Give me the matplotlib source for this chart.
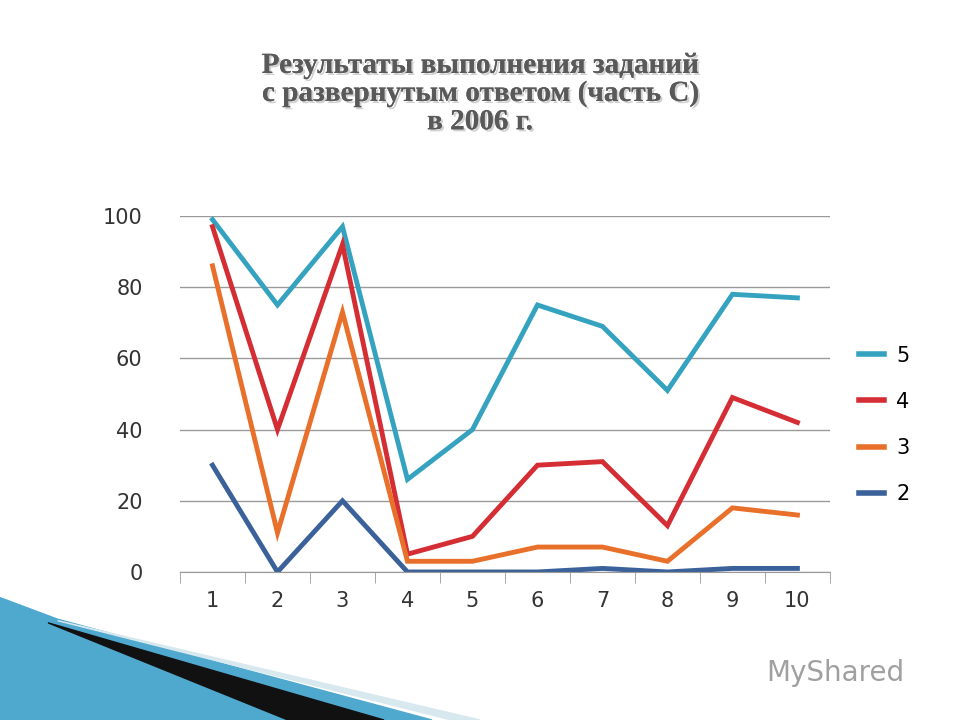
import matplotlib.pyplot as plt
from matplotlib.patches import Polygon
import matplotlib.patheffects as pe

tasks = [1, 2, 3, 4, 5, 6, 7, 8, 9, 10]
grade5 = [99, 75, 97, 26, 40, 75, 69, 51, 78, 77]
grade4 = [97, 40, 92, 5, 10, 30, 31, 13, 49, 42]
grade3 = [86, 11, 73, 3, 3, 7, 7, 3, 18, 16]
grade2 = [30, 0, 20, 0, 0, 0, 1, 0, 1, 1]
labels = ["5", "4", "3", "2"]
colors = ["#35A3C0", "#D42E34", "#E8702A", "#3A6199"]

fig = plt.figure(figsize=(9.6, 7.2), dpi=100)
ax = fig.add_axes([0.1875, 0.2056, 0.677, 0.4944])

for vals, lab, col in zip([grade5, grade4, grade3, grade2], labels, colors):
    ax.plot(tasks, vals, color=col, lw=3.5, label=lab, solid_joinstyle="miter")

ax.set_xlim(0.5, 10.5)
ax.set_ylim(0, 100)
ax.set_yticks(range(0, 101, 20))
ax.set_xticks(tasks)
ax.set_xticks([x + 0.5 for x in range(0, 11)], minor=True)
ax.tick_params(axis="x", which="major", length=0, pad=14, labelsize=15, colors="#333333")
ax.tick_params(axis="x", which="minor", length=8, color="#999999", direction="out")
ax.tick_params(axis="y", length=0, pad=27, labelsize=15, colors="#333333")
ax.grid(axis="y", color="#9a9a9a", lw=1)
ax.set_axisbelow(True)
for s in ["left", "right", "top"]:
    ax.spines[s].set_visible(False)
ax.spines["bottom"].set_color("#999999")

leg = fig.legend(loc="center left", bbox_to_anchor=(0.875, 0.41), frameon=False,
                 fontsize=15, handlelength=1.2, labelspacing=1.25, handletextpad=0.6)
for h in leg.get_lines():
    h.set_linewidth(4)

fig.text(0.5, 0.87, "Результаты выполнения заданий\nс развернутым ответом (часть С)\nв 2006 г.",
         ha="center", va="center", fontsize=21, fontweight="bold", family="Liberation Serif",
         color="#595959", linespacing=1.05,
         path_effects=[pe.withSimplePatchShadow(offset=(1.5, -1.5), alpha=0.2), pe.Normal()])

# decorative corner
fig.patches.append(Polygon([(0, 0), (0, 0.17), (0.06, 0.14), (0.45, 0)], closed=True,
                           transform=fig.transFigure, color="#4FA9CF", zorder=0))
fig.patches.append(Polygon([(0.05, 0.135), (0.30, 0.0), (0.40, 0.0)], closed=True,
                           transform=fig.transFigure, color="#111111", zorder=1))
fig.patches.append(Polygon([(0.06, 0.138), (0.47, 0.0), (0.50, 0.0)], closed=True,
                           transform=fig.transFigure, color="#D8E8EF", zorder=0))
fig.text(0.87, 0.065, "MyShared", fontsize=20, color="#a0a0a0", ha="center", va="center")

fig.savefig("out.png", dpi=100)
